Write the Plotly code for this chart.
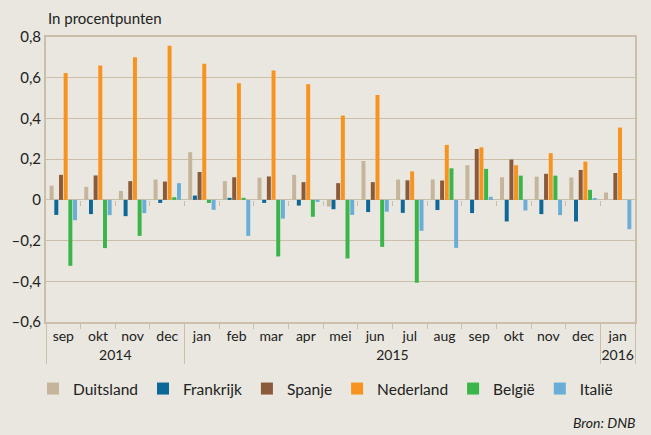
import plotly.graph_objects as go

years = ["2014"] * 4 + ["2015"] * 12 + ["2016"]
months = ["sep", "okt", "nov", "dec", "jan", "feb", "mar", "apr", "mei", "jun",
          "jul", "aug", "sep", "okt", "nov", "dec", "jan"]

duitsland = [0.07, 0.064, 0.044, 0.10, 0.234, 0.092, 0.109, 0.123, -0.033, 0.191,
             0.10, 0.10, 0.17, 0.111, 0.114, 0.11, 0.036]
frankrijk = [-0.074, -0.07, -0.08, -0.015, 0.021, 0.01, -0.015, -0.028, -0.046, -0.06,
             -0.064, -0.05, -0.065, -0.106, -0.07, -0.106, 0.0]
spanje = [0.123, 0.12, 0.092, 0.09, 0.137, 0.111, 0.115, 0.087, 0.082, 0.087,
          0.096, 0.095, 0.25, 0.198, 0.128, 0.147, 0.132]
nederland = [0.623, 0.66, 0.70, 0.757, 0.669, 0.573, 0.636, 0.568, 0.414, 0.515,
             0.14, 0.27, 0.258, 0.17, 0.229, 0.188, 0.355]
belgie = [-0.324, -0.237, -0.177, 0.013, -0.015, 0.01, -0.278, -0.083, -0.288, -0.231,
          -0.407, 0.155, 0.152, 0.119, 0.119, 0.049, 0.0]
italie = [-0.10, -0.075, -0.065, 0.082, -0.049, -0.177, -0.092, -0.01, -0.074, -0.058,
          -0.152, -0.236, 0.015, -0.052, -0.075, 0.008, -0.144]

series_names = ["Duitsland", "Frankrijk", "Spanje", "Nederland", "België", "Italië"]
series_values = [duitsland, frankrijk, spanje, nederland, belgie, italie]
colors = ["#c4b59b", "#0d6797", "#8a5a3a", "#f7931e", "#3ab54a", "#6aaed8"]

ytick_vals = [-0.6, -0.4, -0.2, 0, 0.2, 0.4, 0.6, 0.8]
ytick_text = ["–0,6", "–0,4", "–0,2", "0", "0,2", "0,4", "0,6", "0,8"]

# make repeated month labels unique (invisible zero-width suffix) so the
# multicategory axis keeps chronological order
seen = {}
month_labels = []
for m in months:
    n = seen.get(m, 0)
    month_labels.append(m + "\u200b" * n)
    seen[m] = n + 1

grid = "#cbbfa9"
bg = "#e9e7df"
font = "Lato, 'Open Sans', sans-serif"

fig = go.Figure()
for name, vals, col in zip(series_names, series_values, colors):
    fig.add_trace(go.Bar(x=[years, month_labels], y=vals, name=name, marker_color=col,
                         marker_line_width=0))

# helper axis for small tick marks on the zero line
fig.add_trace(go.Scatter(x=[None], y=[None], xaxis="x2", showlegend=False,
                         hoverinfo="skip", mode="markers"))

fig.update_layout(
    width=651, height=435,
    margin=dict(l=46, r=16, t=37, b=113, autoexpand=False),
    paper_bgcolor=bg, plot_bgcolor=bg,
    font=dict(family=font, size=14, color="#222222"),
    barmode="group", bargap=0.19, bargroupgap=0.15,
    showlegend=True,
    legend=dict(orientation="h", xref="container", x=0.5, xanchor="center",
                y=-0.235, yanchor="middle",
                font=dict(size=15.5), itemwidth=30, bgcolor="rgba(0,0,0,0)",
                traceorder="normal"),
    xaxis=dict(type="multicategory", showgrid=False, showline=True, linecolor=grid,
               linewidth=2, mirror=True, ticks="outside", tickcolor=grid, ticklen=5,
               dividercolor=grid, dividerwidth=1, tickfont=dict(size=14),
               automargin=False),
    xaxis2=dict(overlaying="x", anchor="free", position=0.6 / 1.4, range=[-0.5, 16.5],
                tickvals=[i + 0.5 for i in range(16)], ticks="outside", ticklen=5,
                tickcolor=grid, showticklabels=False, showline=False, showgrid=False,
                zeroline=False),
    yaxis=dict(range=[-0.6, 0.8], tickvals=ytick_vals, ticktext=ytick_text,
               showgrid=True, gridcolor=grid, gridwidth=1, zeroline=True,
               zerolinecolor=grid, zerolinewidth=1, showline=True, linecolor=grid,
               linewidth=2, mirror=True, ticks="", tickfont=dict(size=15),
               automargin=False),
    annotations=[
        dict(text="In procentpunten", xref="paper", yref="paper", x=0.0, y=1.067,
             xanchor="left", yanchor="middle", showarrow=False,
             font=dict(size=15, color="#222222")),
        dict(text="<i>Bron: DNB</i>", xref="paper", yref="paper", x=1.005, y=-0.354,
             xanchor="right", yanchor="middle", showarrow=False,
             font=dict(size=14, color="#222222")),
    ],
)

fig.write_html("out.html", config={"displayModeBar": False},
               post_script="document.body.style.margin='0';"
                           "document.body.style.background='#e9e7df';")
